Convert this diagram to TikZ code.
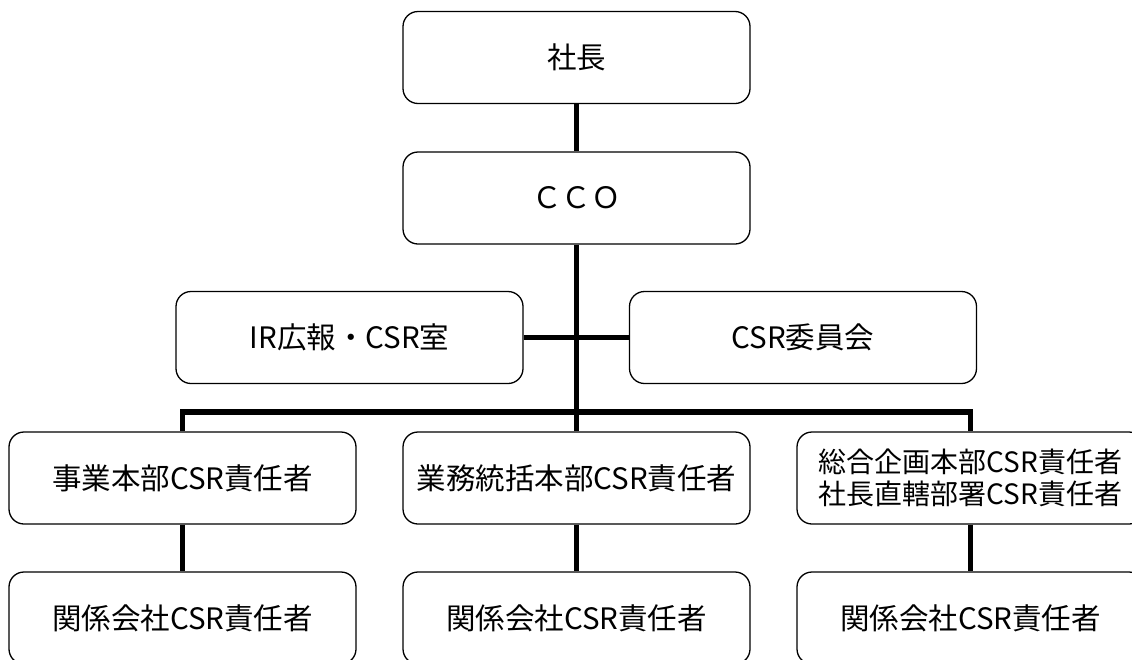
\documentclass[tikz,border=0pt]{standalone}
\usepackage{fontspec}
\setmainfont{Noto Sans CJK JP}
\begin{document}
\begin{tikzpicture}[x=1pt,y=-1pt,
  orgbox/.style={draw, line width=1.3pt, rounded corners=15pt, minimum width=347pt, minimum height=92pt, inner sep=0pt, align=center, font=\fontsize{29.5}{33}\selectfont},
  twoline/.style={font=\fontsize{28}{32}\selectfont},
  link/.style={line width=5.8pt}]
\useasboundingbox (0,0) rectangle (1132,659);
\node[orgbox] (pres) at (576.5,57.5) {社長};
\node[orgbox] (cco) at (576.5,198) {ＣＣＯ};
\node[orgbox] (ir) at (349.5,337.5) {IR広報・CSR室};
\node[orgbox] (csr) at (803,337.5) {CSR委員会};
\node[orgbox] (b1) at (182.5,478) {事業本部CSR責任者};
\node[orgbox] (b2) at (576.5,478) {業務統括本部CSR責任者};
\node[orgbox, twoline] (b3) at (970.5,478) {総合企画本部CSR責任者\\社長直轄部署CSR責任者};
\node[orgbox] (c1) at (182.5,618) {関係会社CSR責任者};
\node[orgbox] (c2) at (576.5,618) {関係会社CSR責任者};
\node[orgbox] (c3) at (970.5,618) {関係会社CSR責任者};
\coordinate (bus) at (576.5,412);
\draw[link] (pres.south) -- (cco.north);
\draw[link] (cco.south) -- (b2.north);
\draw[link] (ir.east) -- (csr.west);
\draw[link, line join=miter] (b1.north) -- (b1 |- bus) -- (b3 |- bus) -- (b3.north);
\draw[link] (b1.south) -- (c1.north);
\draw[link] (b2.south) -- (c2.north);
\draw[link] (b3.south) -- (c3.north);
\end{tikzpicture}
\end{document}
